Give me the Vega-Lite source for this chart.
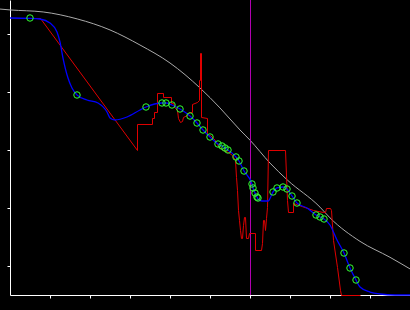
{
  "$schema": "https://vega.github.io/schema/vega-lite/v6.json",
  "width": 400,
  "height": 295,
  "autosize": "none",
  "padding": {"left": 10, "top": 0, "right": 0, "bottom": 15},
  "background": "#000000",
  "config": {
    "view": {"stroke": null},
    "axis": {"domainColor": "#ffffff", "tickColor": "#ffffff", "tickSize": 3, "labels": false, "grid": false, "title": null, "domainWidth": 1, "tickWidth": 1}
  },
  "datasets": {
    "gray": [
      {"x": -0.25, "y": 9.86}, {"x": 0, "y": 9.83}, {"x": 0.83, "y": 9.76}, {"x": 1.68, "y": 9.52},
      {"x": 2.5, "y": 9.14}, {"x": 3.25, "y": 8.62}, {"x": 4, "y": 8.0}, {"x": 4.75, "y": 7.14},
      {"x": 5.25, "y": 6.45}, {"x": 5.75, "y": 5.69}, {"x": 6, "y": 5.34}, {"x": 6.5, "y": 4.55},
      {"x": 6.93, "y": 3.97}, {"x": 7.75, "y": 3.03}, {"x": 8, "y": 2.66}, {"x": 8.75, "y": 1.85},
      {"x": 9.5, "y": 1.3}, {"x": 10, "y": 0.9}
    ],
    "blue": [
      {"x": 0, "y": 9.552}, {"x": 0.5, "y": 9.541}, {"x": 0.75, "y": 9.517}, {"x": 1.0, "y": 9.379},
      {"x": 1.175, "y": 9.069}, {"x": 1.25, "y": 8.724}, {"x": 1.325, "y": 8.172}, {"x": 1.45, "y": 7.483},
      {"x": 1.55, "y": 7.138}, {"x": 1.675, "y": 6.897}, {"x": 1.925, "y": 6.724}, {"x": 2.2, "y": 6.621},
      {"x": 2.425, "y": 6.31}, {"x": 2.5, "y": 6.103}, {"x": 2.625, "y": 6.034}, {"x": 2.925, "y": 6.138},
      {"x": 3.25, "y": 6.379}, {"x": 3.4, "y": 6.483}, {"x": 3.8, "y": 6.621}, {"x": 3.9, "y": 6.621},
      {"x": 4.05, "y": 6.552}, {"x": 4.25, "y": 6.414}, {"x": 4.5, "y": 6.172}, {"x": 4.675, "y": 5.931},
      {"x": 4.825, "y": 5.69}, {"x": 5.0, "y": 5.448}, {"x": 5.2, "y": 5.207}, {"x": 5.3, "y": 5.138},
      {"x": 5.375, "y": 5.069}, {"x": 5.65, "y": 4.759}, {"x": 5.725, "y": 4.621}, {"x": 5.85, "y": 4.276},
      {"x": 6.05, "y": 3.828}, {"x": 6.075, "y": 3.69}, {"x": 6.125, "y": 3.517}, {"x": 6.175, "y": 3.379},
      {"x": 6.2, "y": 3.31}, {"x": 6.3, "y": 3.241}, {"x": 6.45, "y": 3.241}, {"x": 6.575, "y": 3.552},
      {"x": 6.675, "y": 3.69}, {"x": 6.825, "y": 3.724}, {"x": 6.925, "y": 3.655}, {"x": 7.05, "y": 3.414},
      {"x": 7.175, "y": 3.172}, {"x": 7.425, "y": 3.0}, {"x": 7.65, "y": 2.759}, {"x": 7.75, "y": 2.69},
      {"x": 7.85, "y": 2.621}, {"x": 8.0, "y": 2.414}, {"x": 8.175, "y": 1.897}, {"x": 8.35, "y": 1.448},
      {"x": 8.5, "y": 0.931}, {"x": 8.65, "y": 0.517}, {"x": 8.75, "y": 0.276}, {"x": 9.0, "y": 0.103},
      {"x": 9.25, "y": 0.034}, {"x": 9.625, "y": 0.0}, {"x": 10, "y": 0.0}
    ],
    "obs": [
      {"x": 0.5, "y": 9.552}, {"x": 1.675, "y": 6.897}, {"x": 3.4, "y": 6.483}, {"x": 3.8, "y": 6.621},
      {"x": 3.9, "y": 6.621}, {"x": 4.05, "y": 6.552}, {"x": 4.25, "y": 6.414}, {"x": 4.5, "y": 6.172},
      {"x": 4.675, "y": 5.931}, {"x": 4.825, "y": 5.69}, {"x": 5.0, "y": 5.448}, {"x": 5.2, "y": 5.207},
      {"x": 5.3, "y": 5.138}, {"x": 5.375, "y": 5.069}, {"x": 5.45, "y": 5.0}, {"x": 5.65, "y": 4.759},
      {"x": 5.725, "y": 4.621}, {"x": 5.85, "y": 4.276}, {"x": 6.05, "y": 3.828}, {"x": 6.075, "y": 3.69},
      {"x": 6.125, "y": 3.517}, {"x": 6.175, "y": 3.379}, {"x": 6.2, "y": 3.345}, {"x": 6.575, "y": 3.552},
      {"x": 6.675, "y": 3.69}, {"x": 6.825, "y": 3.724}, {"x": 6.925, "y": 3.655}, {"x": 7.05, "y": 3.414},
      {"x": 7.175, "y": 3.172}, {"x": 7.65, "y": 2.759}, {"x": 7.75, "y": 2.69}, {"x": 7.85, "y": 2.621},
      {"x": 8.35, "y": 1.448}, {"x": 8.5, "y": 0.931}, {"x": 8.65, "y": 0.517}
    ],
    "red": [
      {"i": 1, "x": 0.275, "y": 9.552}, {"i": 2, "x": 0.75, "y": 9.552}, {"i": 3, "x": 3.175, "y": 5.0},
      {"i": 4, "x": 3.175, "y": 5.897}, {"i": 5, "x": 3.55, "y": 5.897}, {"i": 6, "x": 3.55, "y": 6.103},
      {"i": 7, "x": 3.6, "y": 6.103}, {"i": 8, "x": 3.6, "y": 6.31}, {"i": 9, "x": 3.675, "y": 6.31},
      {"i": 10, "x": 3.675, "y": 6.966}, {"i": 11, "x": 3.825, "y": 6.966}, {"i": 12, "x": 3.825, "y": 6.828},
      {"i": 13, "x": 4.025, "y": 6.828}, {"i": 14, "x": 4.025, "y": 6.621}, {"i": 15, "x": 4.075, "y": 6.621},
      {"i": 16, "x": 4.125, "y": 6.448}, {"i": 17, "x": 4.175, "y": 6.379}, {"i": 18, "x": 4.2, "y": 6.103},
      {"i": 19, "x": 4.25, "y": 5.966}, {"i": 20, "x": 4.3, "y": 6.0}, {"i": 21, "x": 4.325, "y": 6.138},
      {"i": 22, "x": 4.425, "y": 6.207}, {"i": 23, "x": 4.475, "y": 6.31}, {"i": 24, "x": 4.55, "y": 6.31},
      {"i": 25, "x": 4.55, "y": 6.586}, {"i": 26, "x": 4.675, "y": 6.655}, {"i": 27, "x": 4.725, "y": 6.724},
      {"i": 28, "x": 4.725, "y": 7.414}, {"i": 29, "x": 4.75, "y": 7.414}, {"i": 30, "x": 4.75, "y": 8.345},
      {"i": 31, "x": 4.775, "y": 8.345}, {"i": 32, "x": 4.775, "y": 6.138}, {"i": 33, "x": 4.925, "y": 6.103},
      {"i": 34, "x": 4.925, "y": 5.517}, {"i": 35, "x": 5.0, "y": 5.517}, {"i": 36, "x": 5.075, "y": 5.414},
      {"i": 37, "x": 5.125, "y": 5.345}, {"i": 38, "x": 5.175, "y": 5.207}, {"i": 39, "x": 5.2, "y": 5.138},
      {"i": 40, "x": 5.325, "y": 5.0}, {"i": 41, "x": 5.45, "y": 4.931}, {"i": 42, "x": 5.55, "y": 4.828},
      {"i": 43, "x": 5.625, "y": 4.655}, {"i": 44, "x": 5.65, "y": 4.069}, {"i": 45, "x": 5.675, "y": 3.621},
      {"i": 46, "x": 5.7, "y": 2.931}, {"i": 47, "x": 5.725, "y": 2.586}, {"i": 48, "x": 5.75, "y": 2.241},
      {"i": 49, "x": 5.775, "y": 1.966}, {"i": 50, "x": 5.8, "y": 1.966}, {"i": 51, "x": 5.825, "y": 2.414},
      {"i": 52, "x": 5.85, "y": 2.69}, {"i": 53, "x": 5.875, "y": 2.69}, {"i": 54, "x": 5.9, "y": 1.966},
      {"i": 55, "x": 5.95, "y": 1.966}, {"i": 56, "x": 5.975, "y": 2.138}, {"i": 57, "x": 6.125, "y": 2.138},
      {"i": 58, "x": 6.125, "y": 1.552}, {"i": 59, "x": 6.275, "y": 1.552}, {"i": 60, "x": 6.3, "y": 1.793},
      {"i": 61, "x": 6.325, "y": 2.586}, {"i": 62, "x": 6.35, "y": 2.586}, {"i": 63, "x": 6.375, "y": 2.241},
      {"i": 64, "x": 6.4, "y": 2.655}, {"i": 65, "x": 6.425, "y": 3.034}, {"i": 66, "x": 6.45, "y": 5.0},
      {"i": 67, "x": 6.875, "y": 5.0}, {"i": 68, "x": 6.925, "y": 3.276}, {"i": 69, "x": 6.95, "y": 2.862},
      {"i": 70, "x": 7.075, "y": 2.862}, {"i": 71, "x": 7.075, "y": 3.172}, {"i": 72, "x": 7.575, "y": 2.931},
      {"i": 73, "x": 7.825, "y": 2.862}, {"i": 74, "x": 7.875, "y": 2.862}, {"i": 75, "x": 7.9, "y": 3.0},
      {"i": 76, "x": 8.0, "y": 3.0}, {"i": 77, "x": 8.025, "y": 2.931}, {"i": 78, "x": 8.075, "y": 1.897},
      {"i": 79, "x": 8.175, "y": 0.966}, {"i": 80, "x": 8.25, "y": 0.172}, {"i": 81, "x": 8.275, "y": 0.0},
      {"i": 82, "x": 8.75, "y": 0.0}
    ],
    "marker": [{"x": 6}]
  },
  "layer": [
    {
      "data": {"name": "gray"},
      "mark": {"type": "line", "color": "#aaaaaa", "strokeWidth": 1, "interpolate": "monotone"},
      "encoding": {
        "x": {"field": "x", "type": "quantitative", "scale": {"domain": [0, 10], "nice": false, "zero": false},
              "axis": {"values": [1, 2, 3, 4, 5, 6, 7, 8, 9], "orient": "bottom"}},
        "y": {"field": "y", "type": "quantitative", "scale": {"domain": [0, 10.172413793], "nice": false, "zero": false},
              "axis": {"values": [1, 2, 3, 4, 5, 6, 7, 8, 9], "orient": "left"}}
      }
    },
    {
      "data": {"name": "marker"},
      "mark": {"type": "rule", "color": "#b000b0", "strokeWidth": 1, "xOffset": 0.5},
      "encoding": {"x": {"field": "x", "type": "quantitative"}}
    },
    {
      "data": {"name": "red"},
      "mark": {"type": "line", "color": "#e00000", "strokeWidth": 1, "xOffset": 0.5, "yOffset": 0.5},
      "encoding": {
        "x": {"field": "x", "type": "quantitative"},
        "y": {"field": "y", "type": "quantitative"},
        "order": {"field": "i", "type": "quantitative"}
      }
    },
    {
      "data": {"name": "blue"},
      "mark": {"type": "line", "color": "#0000ff", "strokeWidth": 1.3, "interpolate": "monotone"},
      "encoding": {
        "x": {"field": "x", "type": "quantitative"},
        "y": {"field": "y", "type": "quantitative"}
      }
    },
    {
      "data": {"name": "obs"},
      "mark": {"type": "point", "shape": "circle", "filled": false, "color": "#33ff33", "size": 42, "strokeWidth": 1, "opacity": 1},
      "encoding": {
        "x": {"field": "x", "type": "quantitative"},
        "y": {"field": "y", "type": "quantitative"}
      }
    }
  ]
}
